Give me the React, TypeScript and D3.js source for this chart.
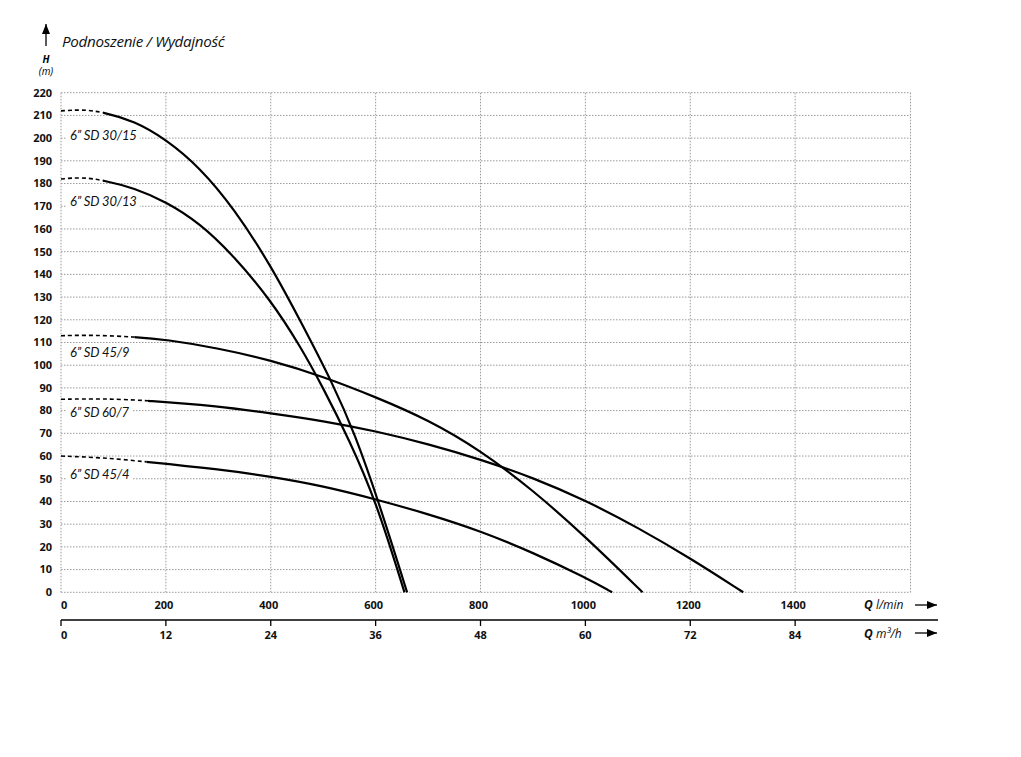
import React, { useEffect, useRef } from "react";
import * as d3 from "d3";

// ---- data (Q in l/min, H in m) ----
const yTicks = [0, 10, 20, 30, 40, 50, 60, 70, 80, 90, 100, 110, 120, 130, 140, 150, 160, 170, 180, 190, 200, 210, 220];
const qLminTicks = [0, 200, 400, 600, 800, 1000, 1200, 1400];
const qM3hTicks = [0, 12, 24, 36, 48, 60, 72, 84];
const seriesNames = ["6\u201D SD 30/15", "6\u201D SD 30/13", "6\u201D SD 45/9", "6\u201D SD 60/7", "6\u201D SD 45/4"];
const labelH = [201, 172, 105.5, 79, 52];
const dashEnd = [80, 80, 140, 166, 163];

const sd3015: [number, number][] = [[0, 212], [40, 212.6], [80, 211.5], [140, 207.5], [200, 199.5], [265, 187], [330, 169], [400, 144], [460, 118], [518, 92], [560, 70], [605, 40.5], [660, 0]];
const sd3013: [number, number][] = [[0, 182], [40, 182.8], [80, 181.5], [140, 178], [200, 172], [265, 162.5], [330, 148], [400, 128.6], [456, 108.5], [500, 90], [550, 67], [601, 40], [655, 0]];
const sd459: [number, number][] = [[0, 113], [60, 113.3], [140, 112.5], [200, 111.3], [300, 107.5], [400, 102.2], [500, 95], [600, 86], [700, 76], [800, 62.5], [900, 45], [1000, 24.5], [1109, 0]];
const sd607: [number, number][] = [[0, 85], [80, 85.3], [166, 84.5], [300, 82], [400, 78.8], [500, 75.5], [600, 71], [700, 65.3], [800, 58.5], [900, 50.5], [1000, 40.5], [1100, 28.5], [1200, 15], [1301, 0]];
const sd454: [number, number][] = [[0, 60], [80, 59.3], [163, 57.5], [300, 54.2], [400, 51], [500, 46.8], [600, 41], [700, 34.5], [800, 27], [900, 17.5], [1000, 6.5], [1051, 0]];
const allSeries = [sd3015, sd3013, sd459, sd607, sd454];

export default function App() {
  const ref = useRef<SVGSVGElement | null>(null);

  useEffect(() => {
    const svg = d3.select(ref.current);
    svg.selectAll("*").remove();

    const x = d3.scaleLinear().domain([0, 1620]).range([61, 910.5]);
    const xm = d3.scaleLinear().domain([0, 97.2]).range([61, 910.5]);
    const y = d3.scaleLinear().domain([0, 220]).range([592.3, 92.7]);
    const tickFont = "'Open Sans', 'DejaVu Sans', sans-serif";

    const defs = svg.append("defs");
    const mk = defs.append("marker").attr("id", "ah").attr("viewBox", "0 0 10 10")
      .attr("refX", 10).attr("refY", 5).attr("markerWidth", 10).attr("markerHeight", 10)
      .attr("markerUnits", "userSpaceOnUse").attr("orient", "auto");
    mk.append("path").attr("d", "M0,1 L10,5 L0,9 Z").attr("fill", "#000");

    // grid
    const grid = svg.append("g");
    yTicks.forEach((t) => {
      grid.append("line").attr("x1", 61).attr("x2", 910.5).attr("y1", y(t)).attr("y2", y(t))
        .attr("stroke", "#9a9a9a").attr("stroke-width", 1).attr("stroke-dasharray", "1.5,1.5");
    });
    [...qLminTicks, 1620].forEach((t) => {
      grid.append("line").attr("x1", x(t)).attr("x2", x(t)).attr("y1", y(0)).attr("y2", y(220))
        .attr("stroke", "#9a9a9a").attr("stroke-width", 1).attr("stroke-dasharray", "1.5,1.5");
    });

    // y tick labels
    yTicks.forEach((t) => {
      svg.append("text").attr("x", 52).attr("y", y(t)).attr("dy", "0.35em")
        .attr("text-anchor", "end").attr("font-family", tickFont).attr("font-weight", 700)
        .attr("font-size", 11).attr("fill", "#111").text(String(t));
    });

    // x l/min labels
    qLminTicks.forEach((t) => {
      svg.append("text").attr("x", t === 0 ? x(0) : x(t) - 2).attr("y", 609)
        .attr("text-anchor", t === 0 ? "start" : "middle").attr("font-family", tickFont)
        .attr("font-weight", 700).attr("font-size", 11).attr("fill", "#111").text(String(t));
    });

    // secondary axis
    svg.append("line").attr("x1", 61).attr("x2", 938).attr("y1", 620).attr("y2", 620)
      .attr("stroke", "#000").attr("stroke-width", 1.5);
    qM3hTicks.forEach((t) => {
      svg.append("line").attr("x1", xm(t)).attr("x2", xm(t)).attr("y1", 620).attr("y2", 626)
        .attr("stroke", "#000").attr("stroke-width", 1.3);
      svg.append("text").attr("x", t === 0 ? xm(0) : xm(t)).attr("y", 639)
        .attr("text-anchor", t === 0 ? "start" : "middle").attr("font-family", tickFont)
        .attr("font-weight", 700).attr("font-size", 11).attr("fill", "#111").text(String(t));
    });

    // axis titles
    const q1 = svg.append("text").attr("x", 864).attr("y", 609).attr("font-family", tickFont)
      .attr("font-size", 12).attr("font-style", "italic").attr("fill", "#111");
    q1.append("tspan").attr("font-weight", 700).text("Q");
    q1.append("tspan").text(" l/min");
    const q2 = svg.append("text").attr("x", 864).attr("y", 638).attr("font-family", tickFont)
      .attr("font-size", 12).attr("font-style", "italic").attr("fill", "#111");
    q2.append("tspan").attr("font-weight", 700).text("Q");
    q2.append("tspan").text(" m\u00B3/h");
    [605, 633].forEach((yy) => {
      svg.append("line").attr("x1", 915).attr("x2", 937).attr("y1", yy).attr("y2", yy)
        .attr("stroke", "#000").attr("stroke-width", 1.3).attr("marker-end", "url(#ah)");
    });

    // H arrow + title
    svg.append("line").attr("x1", 46).attr("x2", 46).attr("y1", 46).attr("y2", 24)
      .attr("stroke", "#000").attr("stroke-width", 1.3).attr("marker-end", "url(#ah)");
    svg.append("text").attr("x", 46).attr("y", 63).attr("text-anchor", "middle")
      .attr("font-family", tickFont).attr("font-weight", 700).attr("font-style", "italic")
      .attr("font-size", 10).text("H");
    svg.append("text").attr("x", 46).attr("y", 75).attr("text-anchor", "middle")
      .attr("font-family", tickFont).attr("font-style", "italic").attr("font-size", 10).text("(m)");
    svg.append("text").attr("x", 62).attr("y", 47).attr("font-family", "'Open Sans', sans-serif")
      .attr("font-style", "italic").attr("font-size", 15.2).attr("fill", "#111")
      .attr("letter-spacing", -0.3).text("Podnoszenie / Wydajno\u015B\u0107");

    // curves
    const line = d3.line<[number, number]>().x((d) => x(d[0])).y((d) => y(d[1]))
      .curve(d3.curveBasis);
    allSeries.forEach((s, i) => {
      const cd = defs.append("clipPath").attr("id", "cd" + i);
      cd.append("rect").attr("x", 0).attr("y", 0).attr("width", x(dashEnd[i])).attr("height", 757);
      const cs = defs.append("clipPath").attr("id", "cs" + i);
      cs.append("rect").attr("x", x(dashEnd[i])).attr("y", 0).attr("width", 1021).attr("height", 757);
      svg.append("path").attr("d", line(s) as string).attr("fill", "none").attr("stroke", "#000")
        .attr("stroke-width", 1.6).attr("stroke-dasharray", "4,3").attr("clip-path", `url(#cd${i})`);
      svg.append("path").attr("d", line(s) as string).attr("fill", "none").attr("stroke", "#000")
        .attr("stroke-width", 2.2).attr("clip-path", `url(#cs${i})`);
    });

    // series labels with white backgrounds
    seriesNames.forEach((n, i) => {
      const g = svg.append("g");
      const bg = g.append("rect").attr("fill", "#fff");
      const t = g.append("text").attr("x", 70).attr("y", y(labelH[i])).attr("dy", "0.35em")
        .attr("font-family", "Lato, 'Open Sans', sans-serif").attr("font-style", "italic")
        .attr("font-size", 13).attr("letter-spacing", -0.2).attr("fill", "#111").text(n);
      const bb = (t.node() as SVGTextElement).getBBox();
      bg.attr("x", bb.x - 3).attr("y", bb.y).attr("width", bb.width + 6).attr("height", bb.height);
    });
  }, []);

  return (
    <svg ref={ref} width={1021} height={757}
      style={{ position: "absolute", left: 0, top: 0, background: "#fff" }} />
  );
}
